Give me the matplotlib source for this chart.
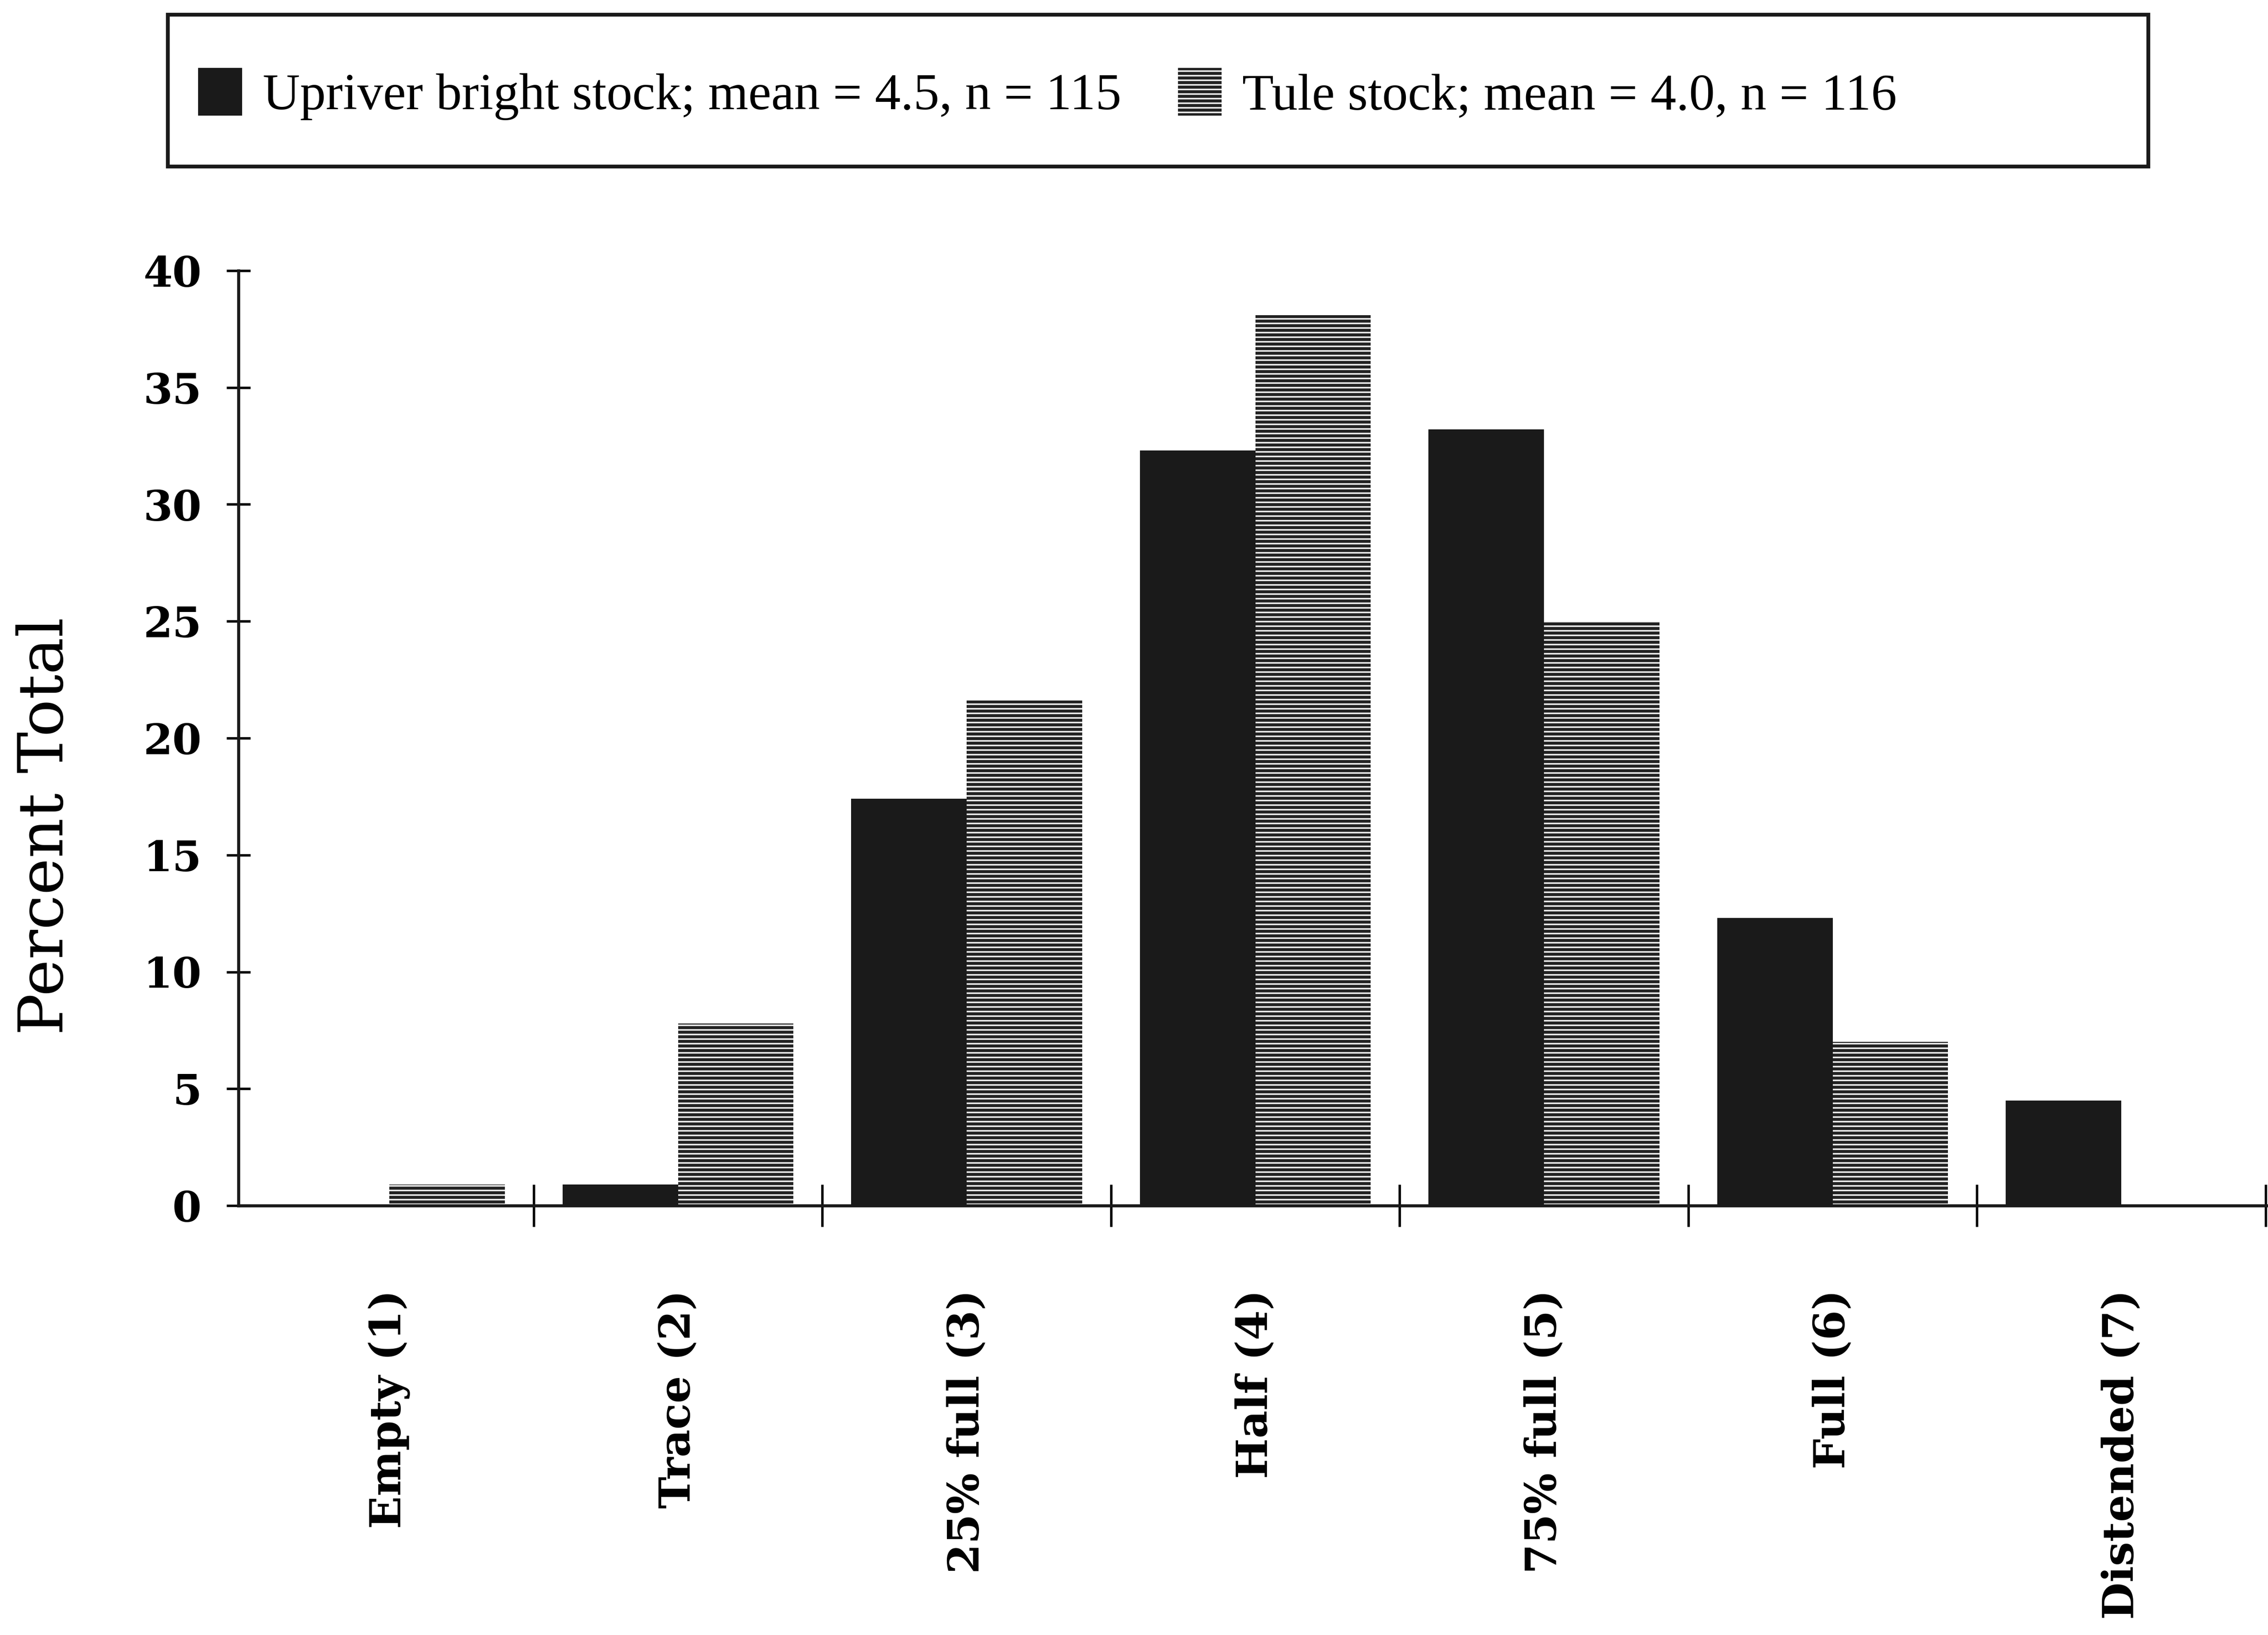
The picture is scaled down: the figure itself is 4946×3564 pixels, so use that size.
import matplotlib
matplotlib.use("Agg")
import matplotlib.pyplot as plt
from matplotlib.patches import Rectangle
import numpy as np

# stomach fullness categories and percent of fish in each
categories = ["Empty (1)", "Trace (2)", "25% full (3)", "Half (4)",
              "75% full (5)", "Full (6)", "Distended (7)"]
upriver_pct = [0.0, 0.9, 17.4, 32.3, 33.2, 12.3, 4.5]
tule_pct = [0.9, 7.8, 21.6, 38.1, 25.0, 7.0, 0.0]
upriver_label = "Upriver bright stock; mean = 4.5, n = 115"
tule_label = "Tule stock; mean = 4.0, n = 116"
yticks = [0, 5, 10, 15, 20, 25, 30, 35, 40]

plt.rcParams["hatch.linewidth"] = 0.8

W, H = 4947, 3564
fig = plt.figure(figsize=(W / 300, H / 300), dpi=300)
ax = fig.add_axes([520 / W, 1 - 2628 / H, 1 - 520 / W, (2628 - 590) / H])

x = np.arange(len(categories))
bw = 0.4
b1 = ax.bar(x - bw, upriver_pct, width=bw, align="edge", color="#1a1a1a",
            linewidth=0, label=upriver_label)
b2 = ax.bar(x, tule_pct, width=bw, align="edge", facecolor="#222222",
            edgecolor="#f4f4f4", linewidth=0, hatch="-----", label=tule_label)

ax.set_xlim(-0.523, 6.51)
ax.set_ylim(0, 40)

for side in ("top", "right"):
    ax.spines[side].set_visible(False)
for side in ("left", "bottom"):
    ax.spines[side].set_linewidth(1.6)
    ax.spines[side].set_color("#1a1a1a")

ax.set_yticks(yticks)
ax.set_yticklabels([str(v) for v in yticks], fontfamily="DejaVu Serif",
                   fontweight="bold", fontsize=22)
ax.tick_params(axis="y", direction="inout", length=12.5, width=1.3, pad=13)

# boundary ticks (major) and category labels (minor)
ax.set_xticks(np.arange(len(categories)) + 0.5)
ax.set_xticklabels([])
ax.tick_params(axis="x", which="major", direction="inout", length=22, width=1.3)
ax.set_xticks(x, minor=True)
ax.set_xticklabels(categories, minor=True, rotation=90, ha="center", va="top",
                   fontfamily="DejaVu Serif", fontweight="bold", fontsize=22.5)
ax.tick_params(axis="x", which="minor", length=0, pad=44)

ax.set_ylabel("Percent Total", fontfamily="DejaVu Serif", fontsize=32.5,
              va="center")
ax.yaxis.set_label_coords(-0.095, 0.406)

# legend box
fig.patches.append(Rectangle((366 / W, 1 - 363 / H), (4685 - 366) / W,
                             (363 - 32) / H, transform=fig.transFigure,
                             fill=False, edgecolor="#1a1a1a", linewidth=2.0))
fig.legend(handles=[b1, b2], loc="center left",
           bbox_to_anchor=(432 / W, 1 - 205 / H), ncol=2, frameon=False,
           prop={"family": "Liberation Serif", "size": 27},
           borderpad=0, borderaxespad=0, handlelength=0.85, handleheight=1.05,
           handletextpad=0.4, columnspacing=1.1)

fig.savefig("out.png", dpi=300)
